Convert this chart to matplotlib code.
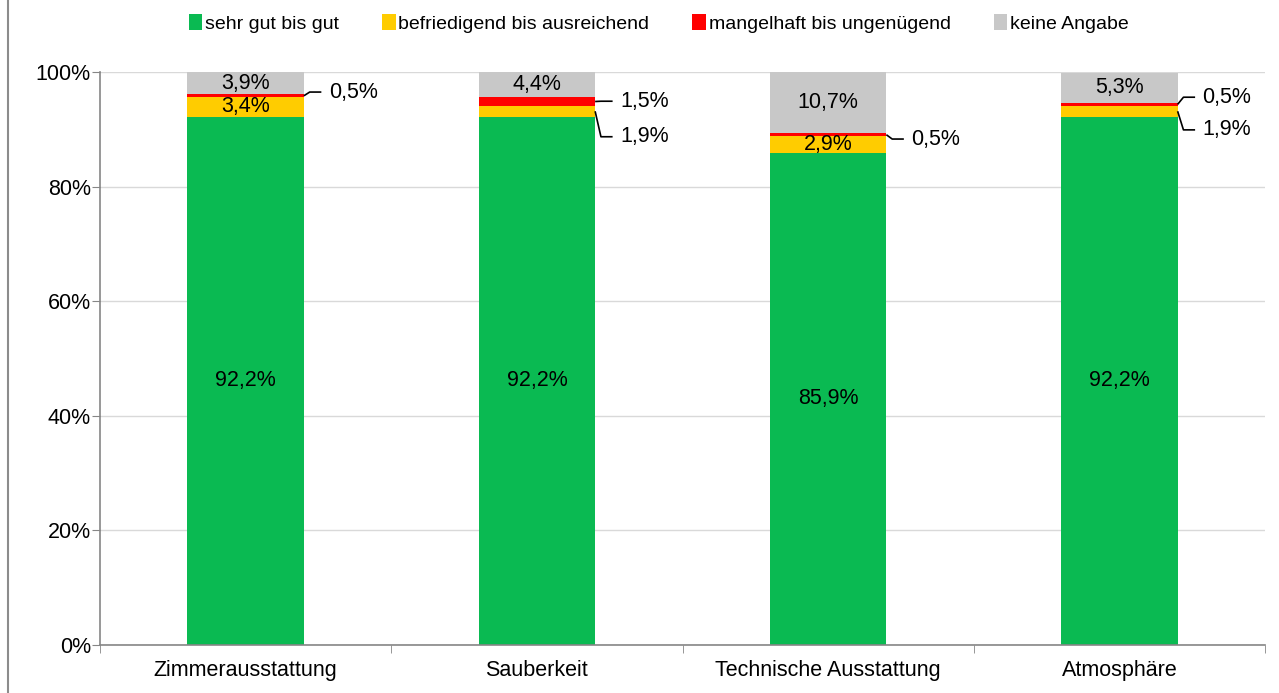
import numpy as np
import matplotlib.pyplot as plt
from matplotlib.lines import Line2D

plt.rcParams['font.family'] = ['Liberation Sans', 'DejaVu Sans']

categories = ['Zimmerausstattung', 'Sauberkeit', 'Technische Ausstattung', 'Atmosphäre']
series_names = ['sehr gut bis gut', 'befriedigend bis ausreichend',
                'mangelhaft bis ungenügend', 'keine Angabe']
sehr_gut = [92.2, 92.2, 85.9, 92.2]
befriedigend = [3.4, 1.9, 2.9, 1.9]
mangelhaft = [0.5, 1.5, 0.5, 0.5]
keine_angabe = [3.9, 4.4, 10.7, 5.3]
series = [sehr_gut, befriedigend, mangelhaft, keine_angabe]
colors = ['#0ABA52', '#FFCC00', '#FF0000', '#C8C8C8']

# which segments get an outside label with a leader line: (category, series, label y)
outside = [(0, 2, 96.5), (1, 2, 94.9), (1, 1, 88.7), (2, 2, 88.3), (3, 2, 95.6), (3, 1, 89.9)]

FS = 15.5

fig = plt.figure(figsize=(12.79, 6.93), dpi=100)
ax = fig.add_axes([100 / 1279, 48 / 693, 1165 / 1279, 573 / 693])

x = np.arange(len(categories))
width = 0.4
bottom = np.zeros(len(categories))
handles = []
for vals, name, col in zip(series, series_names, colors):
    vals = np.array(vals)
    b = ax.bar(x, vals, width, bottom=bottom, color=col, label=name, zorder=2)
    handles.append(b)
    bottom += vals

outside_keys = {(c, s) for c, s, _ in outside}
cum = np.cumsum(np.array(series), axis=0)
for s, vals in enumerate(series):
    for c, v in enumerate(vals):
        if (c, s) in outside_keys:
            continue
        mid = cum[s][c] - v / 2
        ax.text(x[c], mid, f'{v:.1f}%'.replace('.', ','), ha='center', va='center',
                fontsize=FS, color='#000000', zorder=3)

for c, s, ly in outside:
    v = series[s][c]
    mid = cum[s][c] - v / 2
    x0 = x[c] + width / 2
    ax.plot([x0, x0 + 0.02, x0 + 0.06], [mid, ly, ly], color='black', lw=1.2,
            zorder=3, clip_on=False, solid_capstyle='butt')
    ax.text(x0 + 0.085, ly, f'{v:.1f}%'.replace('.', ','), ha='left', va='center',
            fontsize=FS)

ax.set_xlim(-0.5, len(categories) - 0.5)
ax.set_ylim(0, 100)
ax.set_yticks(np.arange(0, 101, 20))
ax.set_yticklabels([f'{t}%' for t in range(0, 101, 20)], fontsize=FS)
ax.set_xticks(x)
ax.set_xticklabels(categories, fontsize=FS)
ax.set_xticks(np.arange(-0.5, len(categories), 1), minor=True)
ax.tick_params(axis='x', which='major', length=0, pad=11)
ax.tick_params(axis='x', which='minor', length=6, color='#868686')
ax.tick_params(axis='y', length=6, color='#868686', pad=0.5)
ax.grid(axis='y', color='#D9D9D9', lw=1, zorder=0)
ax.set_axisbelow(True)
for sp in ['top', 'right']:
    ax.spines[sp].set_visible(False)
for sp in ['left', 'bottom']:
    ax.spines[sp].set_color('#868686')
    ax.spines[sp].set_linewidth(1.2)

fig.legend(handles=handles, labels=series_names, loc='upper center',
           bbox_to_anchor=(0.515, 1.005), ncol=4, frameon=False, fontsize=14,
           handlelength=0.7, handleheight=0.9, handletextpad=0.15, columnspacing=2.2)

fig.add_artist(Line2D([8 / 1279, 8 / 1279], [0, 1], color='#8C8C8C', lw=1.5,
                      transform=fig.transFigure))

fig.savefig('out.png', dpi=100)
